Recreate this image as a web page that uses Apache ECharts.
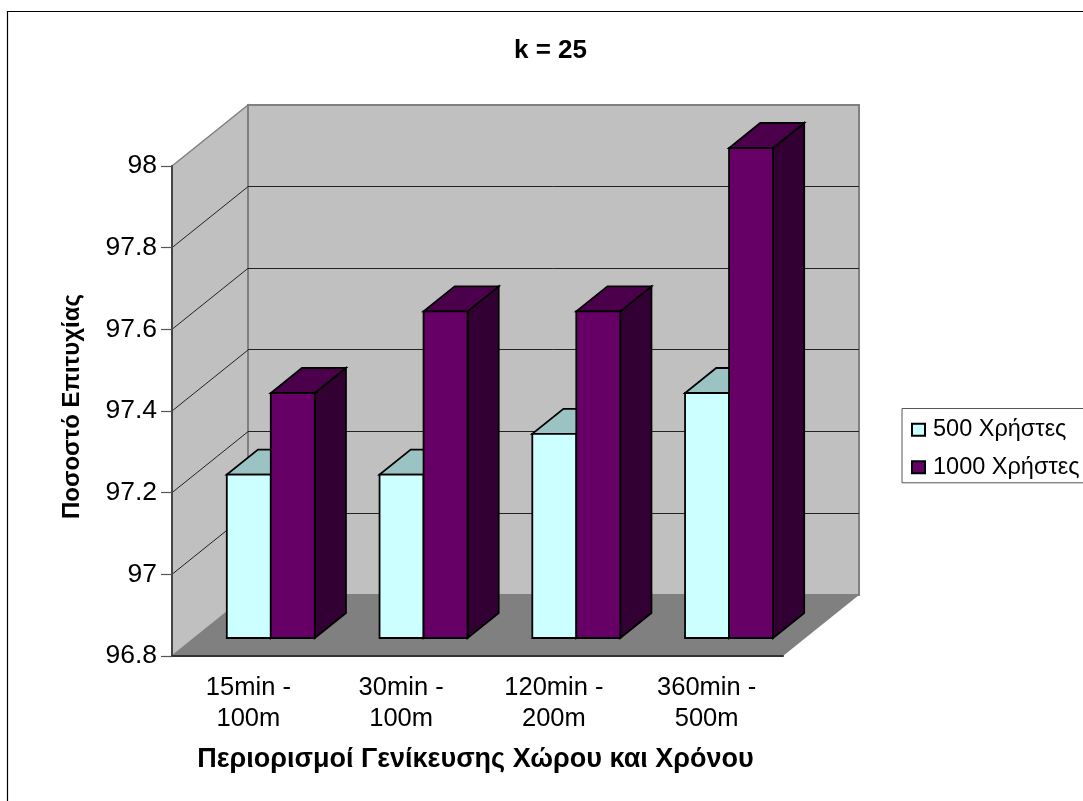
<!DOCTYPE html>
<html>
<head>
<meta charset="utf-8">
<style>html,body{margin:0;padding:0;background:#fff;overflow:hidden}#chart{width:1083px;height:801px}</style>
<script src="https://cdn.jsdelivr.net/npm/echarts@6/dist/echarts.min.js"></script>
</head>
<body>
<div id="chart"></div>
<script>
const categories = ['15min -\n100m', '30min -\n100m', '120min -\n200m', '360min -\n500m'];
const users500 = [97.2, 97.2, 97.3, 97.4];
const users1000 = [97.4, 97.6, 97.6, 98];
const valueTicks = [96.8, 97, 97.2, 97.4, 97.6, 97.8, 98];
const seriesNames = ['500 Χρήστες', '1000 Χρήστες'];

// Oblique projection of the box: pixels per full depth of the plot box.
const DEPTH_X = 76, DEPTH_Y = 61;
const BAR_DEPTH_START = 0.295, BAR_DEPTH_END = 0.705;
const BAR_SHARE = 0.288;
const FONT = '"Liberation Sans", Arial, sans-serif';

const palettes = [
  { front: '#CCFFFF', top: '#9CC3C3', side: '#99CCCC' },
  { front: '#660066', top: '#4C004C', side: '#330033' }
];

const lift = (p, d) => [p[0] + DEPTH_X * d, p[1] - DEPTH_Y * d];
const poly = (points, style) => ({ type: 'polygon', shape: { points }, style });

// Walls, floor and the gridlines that wrap around them.
function renderBox(params, api) {
  const band = api.size([1, 0])[0];
  const lo = valueTicks[0], hi = valueTicks[valueTicks.length - 1];
  const xl = api.coord([0, lo])[0] - band / 2;
  const xr = api.coord([categories.length - 1, lo])[0] + band / 2;
  const yb = api.coord([0, lo])[1], yt = api.coord([0, hi])[1];
  const wallEdge = { stroke: '#808080', lineWidth: 2, lineJoin: 'miter' };
  const children = [
    poly([[xl, yb], lift([xl, yb], 1), lift([xl, yt], 1), [xl, yt]], { fill: '#C0C0C0', stroke: '#808080', lineWidth: 1.5 }),
    poly([lift([xl, yb], 1), lift([xr, yb], 1), lift([xr, yt], 1), lift([xl, yt], 1)], { fill: '#C0C0C0', ...wallEdge })
  ];
  valueTicks.slice(1, -1).forEach(v => {
    const y = api.coord([0, v])[1];
    const corner = lift([xl, y], 1);
    const wallY = Math.floor(corner[1]) + 0.5;
    children.push(
      { type: 'line', shape: { x1: xl, y1: y, x2: corner[0], y2: corner[1] }, style: { stroke: '#222', lineWidth: 1 } },
      { type: 'line', shape: { x1: corner[0], y1: wallY, x2: xr + DEPTH_X, y2: wallY }, style: { stroke: '#222', lineWidth: 1 } }
    );
  });
  children.push(poly([[xl, yb], [xr, yb], lift([xr, yb], 1), lift([xl, yb], 1)], { fill: '#808080' }));
  return { type: 'group', children };
}

// One bar: front face plus the visible top and right side.
function renderBar(seriesIndex) {
  return function (params, api) {
    const band = api.size([1, 0])[0];
    const c = api.coord([api.value(0), api.value(1)]);
    const base = api.coord([api.value(0), valueTicks[0]]);
    const w = band * BAR_SHARE;
    const x0 = c[0] - w + seriesIndex * w;
    const x1 = x0 + w;
    const fbl = lift([x0, base[1]], BAR_DEPTH_START), fbr = lift([x1, base[1]], BAR_DEPTH_START);
    const ftl = lift([x0, c[1]], BAR_DEPTH_START), ftr = lift([x1, c[1]], BAR_DEPTH_START);
    const span = BAR_DEPTH_END - BAR_DEPTH_START;
    const btl = lift(ftl, span), btr = lift(ftr, span), bbr = lift(fbr, span);
    const pal = palettes[seriesIndex];
    const edge = { stroke: '#000', lineWidth: 1.8, lineJoin: 'miter' };
    return {
      type: 'group',
      children: [
        poly([fbr, bbr, btr, ftr], { fill: pal.side, ...edge }),
        poly([ftl, ftr, btr, btl], { fill: pal.top, ...edge }),
        poly([fbl, fbr, ftr, ftl], { fill: pal.front, ...edge })
      ]
    };
  };
}

const chart = echarts.init(document.getElementById('chart'), null, { renderer: 'canvas' });
chart.setOption({
  animation: false,
  backgroundColor: '#ffffff',
  title: {
    text: 'k = 25', left: 545.5, top: 33, textAlign: 'center',
    textStyle: { fontFamily: FONT, fontSize: 26, fontWeight: 'bold', color: '#000' }
  },
  graphic: [{
    type: 'rect', silent: true, z: -1,
    shape: { x: 7.5, y: 11.5, width: 1200, height: 900 },
    style: { fill: 'none', stroke: '#000', lineWidth: 1.2 }
  }],
  legend: {
    left: 902, top: 408.5, orient: 'vertical',
    data: seriesNames,
    icon: 'rect', itemWidth: 13, itemHeight: 12, itemGap: 13.5,
    padding: [9.3, 14, 3.5, 9],
    backgroundColor: '#fff', borderColor: '#555', borderWidth: 1,
    selectedMode: false,
    textStyle: { fontFamily: FONT, fontSize: 23.5, lineHeight: 24, color: '#000', padding: [0, 0, 0, 3] }
  },
  grid: { left: 172, right: 300, top: 166, bottom: 145 },
  xAxis: {
    type: 'category', data: categories, z: 5,
    name: 'Περιορισμοί Γενίκευσης Χώρου και Χρόνου',
    nameLocation: 'middle', nameGap: 90,
    nameTextStyle: { fontFamily: FONT, fontSize: 27, fontWeight: 'bold', color: '#000', padding: [0, 4, 0, 0] },
    axisLine: { lineStyle: { color: '#333', width: 2 } },
    axisTick: { length: 10, lineStyle: { color: '#555', width: 1.5 } },
    axisLabel: { fontFamily: FONT, fontSize: 25.5, color: '#000', lineHeight: 31, margin: 16, interval: 0 }
  },
  yAxis: {
    type: 'value', z: 5,
    min: valueTicks[0], max: valueTicks[valueTicks.length - 1], interval: 0.2,
    name: 'Ποσοστό Επιτυχίας',
    nameLocation: 'middle', nameRotate: 90, nameGap: 88,
    nameTextStyle: { fontFamily: FONT, fontSize: 24, fontWeight: 'bold', color: '#000', padding: [0, 0, 0, 9] },
    axisLine: { show: true, lineStyle: { color: '#444', width: 2 } },
    axisTick: { show: true, length: 11, lineStyle: { color: '#555', width: 1.2 } },
    axisLabel: { fontFamily: FONT, fontSize: 26.5, color: '#000', margin: 15 },
    splitLine: { show: false }
  },
  series: [
    { type: 'custom', name: 'box', silent: true, z: 1, data: [[0, valueTicks[0]]], renderItem: renderBox },
    ...[users500, users1000].map((vals, i) => ({
      type: 'custom', name: seriesNames[i], z: 2 + i, silent: true,
      itemStyle: { color: palettes[i].front, borderColor: '#000', borderWidth: 1 },
      data: vals.map((v, k) => [k, v]),
      encode: { x: 0, y: 1 },
      renderItem: renderBar(i)
    }))
  ]
});
</script>
</body>
</html>
